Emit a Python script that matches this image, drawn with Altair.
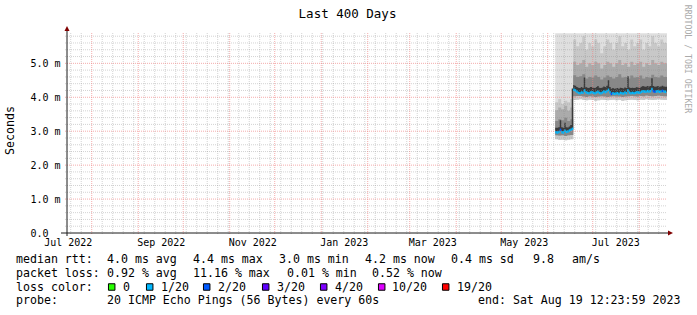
import altair as alt
import pandas as pd

# ---------------- data ----------------
T_START = "2022-07-15T12:23:59Z"
T_END = "2023-08-19T12:23:59Z"
DATA_START = "2023-06-06T00:00:00Z"
Y_MAX = 5.894

# daily median RTT (ms), 2023-06-06 .. 2023-08-18
median_ms = [2.97, 2.96, 2.98, 3.04, 2.97, 2.96, 3.01, 2.98, 2.99, 3.02, 3.04, 3.07,
             4.22, 4.20, 4.16, 4.13, 4.12, 4.14, 4.13, 4.20, 4.15, 4.13,
             4.12, 4.14, 4.15, 4.13, 4.12, 4.14, 4.16, 4.13, 4.12, 4.14,
             4.17, 4.15, 4.18, 4.22, 4.15, 4.10, 4.12, 4.10, 4.11, 4.12,
             4.10, 4.13, 4.12, 4.11, 4.14, 4.12, 4.20, 4.14, 4.12, 4.13,
             4.12, 4.13, 4.15, 4.14, 4.13, 4.16, 4.18, 4.17, 4.16, 4.18,
             4.17, 4.18, 4.24, 4.18, 4.16, 4.17, 4.18, 4.16, 4.17, 4.19, 4.17, 4.16]
# daily top of the dark smoke core (ms)
peak_ms = [3.10, 3.10, 3.12, 3.32, 3.12, 3.10, 3.25, 3.12, 3.11, 3.14, 3.18, 4.26,
           4.36, 4.34, 4.30, 4.28, 4.27, 4.30, 4.28, 4.58, 4.30, 4.28,
           4.27, 4.30, 4.30, 4.28, 4.27, 4.30, 4.33, 4.28, 4.27, 4.29,
           4.32, 4.30, 4.34, 4.50, 4.30, 4.25, 4.27, 4.25, 4.26, 4.27,
           4.25, 4.28, 4.27, 4.26, 4.29, 4.27, 4.62, 4.29, 4.27, 4.28,
           4.27, 4.28, 4.30, 4.29, 4.28, 4.31, 4.33, 4.32, 4.31, 4.33,
           4.32, 4.33, 4.56, 4.33, 4.31, 4.32, 4.33, 4.31, 4.32, 4.34, 4.32, 4.31]
# daily loss colour index (into loss_colors)
loss_idx = [1] * 74
for _d in (3, 37, 65, 66, 71):
    loss_idx[_d] = 2

# two-day smoke bins (ms)
bin_low = [2.76, 2.74, 2.75, 2.73, 2.75, 2.76] + \
          [3.92, 3.93, 3.94, 3.92, 3.91, 3.93, 3.92, 3.90, 3.91, 3.93, 3.92, 3.91, 3.92,
           3.93, 3.91, 3.92, 3.90, 3.91, 3.92, 3.93, 3.92, 3.91, 3.93, 3.92, 3.94, 3.93,
           3.92, 3.93, 3.94, 3.93, 3.92]
bin_low_in = [2.88, 2.87, 2.88, 2.86, 2.88, 2.89] + \
             [4.03, 4.04, 4.04, 4.02, 4.01, 4.03, 4.02, 4.01, 4.02, 4.03, 4.02, 4.01, 4.02,
              4.03, 4.02, 4.02, 4.01, 4.02, 4.03, 4.04, 4.03, 4.02, 4.04, 4.03, 4.05, 4.04,
              4.03, 4.04, 4.05, 4.04, 4.03]
bin_p_mid = [3.30, 3.35, 3.32, 3.40, 3.30, 3.35] + \
            [4.65, 4.60, 4.62, 4.68, 4.55, 4.60, 4.58, 4.64, 4.60, 4.52, 4.58, 4.64, 4.60,
             4.55, 4.60, 4.68, 4.58, 4.60, 4.55, 4.64, 4.58, 4.60, 4.64, 4.55, 4.60, 4.58,
             4.66, 4.60, 4.58, 4.64, 4.60]
bin_p_hi = [3.62, 3.70, 3.65, 3.75, 3.60, 3.70] + \
           [5.05, 4.95, 5.00, 5.10, 4.90, 5.00, 4.95, 5.05, 5.00, 4.85, 4.95, 5.05, 5.00,
            4.90, 5.00, 5.10, 4.95, 5.00, 4.90, 5.05, 4.95, 5.00, 5.05, 4.90, 5.00, 4.95,
            5.10, 5.00, 4.95, 5.05, 5.00]
bin_p_top = [3.85, 3.95, 3.80, 3.90, 3.85, 3.95] + \
            [5.70, 5.50, 5.60, 5.80, 5.40, 5.60, 5.50, 5.70, 5.60, 5.30, 5.50, 5.70, 5.60,
             5.40, 5.60, 5.80, 5.50, 5.60, 5.40, 5.70, 5.50, 5.60, 5.70, 5.40, 5.60, 5.50,
             5.80, 5.60, 5.50, 5.70, 5.60]
bin_top = [5.89] * 37

x_label_dates = ["2022-07-16", "2022-09-16", "2022-11-16", "2023-01-16",
                 "2023-03-16", "2023-05-16", "2023-07-16"]
y_label_values = [0, 1, 2, 3, 4, 5]

loss_labels = ["0", "1/20", "2/20", "3/20", "4/20", "10/20", "19/20"]
loss_colors = ["#26ff00", "#00b8ff", "#0059ff", "#5e00ff", "#7e00ff", "#dd00ff", "#ff0000"]

title_text = "Last 400 Days"
y_title = "Seconds"
watermark = "RRDTOOL / TOBI OETIKER"
legend_lines = [
    [(16, "median rtt:"), (107, "4.0 ms avg"), (193, "4.4 ms max"), (279, "3.0 ms min"),
     (365, "4.2 ms now"), (451, "0.4 ms sd"), (533, "9.8"), (572, "am/s")],
    [(16, "packet loss:"), (107, "0.92 % avg"), (193, "11.16 % max"), (287, "0.01 % min"),
     (372, "0.52 % now")],
    [(16, "loss color:")],
    [(16, "probe:"), (107, "20 ICMP Echo Pings (56 Bytes) every 60s"),
     (478, "end: Sat Aug 19 12:23:59 2023")],
]

# ---------------- layout ----------------
PL, PT = 67, 33
W, H = 600, 200
MONO = "DejaVu Sans Mono"
sq_left = [108, 146, 203, 262, 320, 378, 442]
lab_left = [123, 161, 218, 277, 335, 392, 457]
line_base = [263.3, 277.0, 290.7, 304.3]


def ms(ts):
    t = pd.Timestamp(ts)
    if t.tzinfo is None:
        t = t.tz_localize("UTC")
    return int(t.value // 10**6)


t0, t1 = ms(T_START), ms(T_END)
d0 = ms(DATA_START)
DAY = 86400000

n_days = len(median_ms)
daily = pd.DataFrame({
    "t": [d0 + i * DAY for i in range(n_days)],
    "t2": [min(d0 + (i + 1) * DAY, t1) for i in range(n_days)],
    "med": median_ms,
    "peak": peak_ms,
    "col": [loss_colors[k] for k in loss_idx],
})
daily_area = pd.concat([daily, daily.iloc[[-1]].assign(t=t1)], ignore_index=True)

bins = pd.DataFrame({
    "t": [d0 + i * 2 * DAY for i in range(len(bin_low))],
    "low": bin_low, "low_in": bin_low_in, "p_mid": bin_p_mid,
    "p_hi": bin_p_hi, "p_top": bin_p_top, "top": bin_top,
})
bins = pd.concat([bins, bins.iloc[[-1]].assign(t=t1)], ignore_index=True)

month_grid = [ms(d) for d in pd.date_range("2022-08-01", "2023-08-01", freq="MS")]
week_grid = [ms(d) for d in pd.date_range("2022-07-18", "2023-08-14", freq="7D")]
week_grid = [w for w in week_grid if w not in month_grid]
y_major = [1, 2, 3, 4, 5]
y_minor = [round(0.2 * i, 1) for i in range(1, 30) if i % 5 != 0]

XS = alt.Scale(type="utc", domain=[t0, t1], nice=False)
YS = alt.Scale(domain=[0, Y_MAX], nice=False, zero=False)

# identical axis definitions on every layer so they merge cleanly
XA = alt.Axis(values=[ms(d) for d in x_label_dates],
              labelExpr="utcFormat(datum.value, '%b %Y')",
              labelFont=MONO, labelFontSize=10, labelColor="black",
              labelFlush=False, labelOverlap=False, labelBaseline="alphabetic",
              labelPadding=12.5, ticks=False, tickSize=0, domain=False,
              grid=False, title=None)
YA = alt.Axis(values=y_label_values,
              labelExpr="datum.value == 0 ? '0.0' : format(datum.value, '.1f') + ' m'",
              labelFont=MONO, labelFontSize=10, labelColor="black",
              labelAlign="left", labelBaseline="middle", labelPadding=37,
              labelFlush=False, labelOverlap=False,
              ticks=False, tickSize=0, domain=False, grid=False, title=None)

layers = []


def band(lo, hi, color):
    return alt.Chart(bins).mark_area(interpolate="step-after", color=color, opacity=1).encode(
        x=alt.X("t:T", scale=XS, axis=XA),
        y=alt.Y(f"{hi}:Q", scale=YS, axis=YA),
        y2=f"{lo}:Q",
    )


layers.append(band("low", "top", "#dfdfdf"))
layers.append(band("low", "p_top", "#c8c8c8"))
layers.append(band("low_in", "p_hi", "#ababab"))
layers.append(band("low_in", "p_mid", "#888888"))
layers.append(alt.Chart(daily_area).mark_area(interpolate="step-after", color="#3a3a3a", opacity=1).encode(
    x=alt.X("t:T", scale=XS, axis=XA),
    y=alt.Y("peak:Q", scale=YS, axis=YA),
    y2="med:Q",
))

# grid (drawn over the smoke, semi-transparent like rrdtool)
layers.append(alt.Chart(pd.DataFrame({"t": week_grid})).mark_rule(
    color="#8c8c8c", opacity=0.38, strokeDash=[1, 1], strokeWidth=1).encode(
    x=alt.X("t:T", scale=XS, axis=XA), y=alt.value(0), y2=alt.value(H + 2)))
layers.append(alt.Chart(pd.DataFrame({"v": y_minor})).mark_rule(
    color="#8c8c8c", opacity=0.38, strokeDash=[1, 1], strokeWidth=1).encode(
    y=alt.Y("v:Q", scale=YS, axis=YA), x=alt.value(-2), x2=alt.value(W)))
layers.append(alt.Chart(pd.DataFrame({"t": month_grid})).mark_rule(
    color="#f08080", opacity=0.65, strokeDash=[1, 1], strokeWidth=1).encode(
    x=alt.X("t:T", scale=XS, axis=XA), y=alt.value(0), y2=alt.value(H + 2)))
layers.append(alt.Chart(pd.DataFrame({"v": y_major})).mark_rule(
    color="#f08080", opacity=0.65, strokeDash=[1, 1], strokeWidth=1).encode(
    y=alt.Y("v:Q", scale=YS, axis=YA), x=alt.value(-2), x2=alt.value(W)))

# median line coloured by loss
layers.append(alt.Chart(daily).mark_rule(strokeWidth=2.5).encode(
    x=alt.X("t:T", scale=XS, axis=XA), x2="t2:T",
    y=alt.Y("med:Q", scale=YS, axis=YA),
    color=alt.Color("col:N", scale=None),
))

one = alt.Data(values=[{}])
# axis lines and arrows
layers.append(alt.Chart(one).mark_rule(color="#1a1a1a", strokeWidth=1).encode(
    x=alt.value(-6), x2=alt.value(W + 4), y=alt.value(H)))
layers.append(alt.Chart(one).mark_rule(color="#1a1a1a", strokeWidth=1).encode(
    x=alt.value(0), y=alt.value(H + 3), y2=alt.value(-3)))
layers.append(alt.Chart(one).mark_point(shape="M1,0L-1,-1L-1,1Z", size=25, filled=True,
                                        color="#800000", opacity=1).encode(
    x=alt.value(W + 3.5), y=alt.value(H)))
layers.append(alt.Chart(one).mark_point(shape="M0,-1L1,1L-1,1Z", size=25, filled=True,
                                        color="#800000", opacity=1).encode(
    x=alt.value(0), y=alt.value(-4.5)))


def txt(s, ax, ay, size=11.6, align="left", angle=0, color="black", baseline="alphabetic"):
    kw = dict(text=s.replace(" ", "\u00a0"), font=MONO, fontSize=size, align=align,
              baseline=baseline, color=color)
    if angle:
        kw["angle"] = angle
    return alt.Chart(one).mark_text(**kw).encode(x=alt.value(ax - PL), y=alt.value(ay - PT))


layers.append(txt(title_text, 347.5, 18.3, size=12.5, align="center"))
layers.append(txt(y_title, 14.2, 130.5, size=11.6, align="center", angle=270))
layers.append(txt(watermark, 684.5, 59, size=8.2, align="center", angle=90, color="#aaaaaa"))

for row, items in enumerate(legend_lines):
    for ax, s in items:
        layers.append(txt(s, ax, line_base[row]))

for lbl, col, sx, lx in zip(loss_labels, loss_colors, sq_left, lab_left):
    layers.append(alt.Chart(one).mark_square(size=42, fill=col, stroke="black", strokeWidth=1,
                                             opacity=1, filled=True).encode(
        x=alt.value(sx + 3.7 - PL), y=alt.value(287 - PT)))
    layers.append(txt(lbl, lx, line_base[2]))

chart = alt.layer(*layers).properties(
    width=W, height=H,
    padding={"left": PL, "top": PT, "right": 697 - PL - W, "bottom": 315 - PT - H},
    autosize=alt.AutoSizeParams(type="none"),
    background="white",
).configure_view(stroke=None)

chart.save("out.html", embed_options={"renderer": "svg", "actions": False})
